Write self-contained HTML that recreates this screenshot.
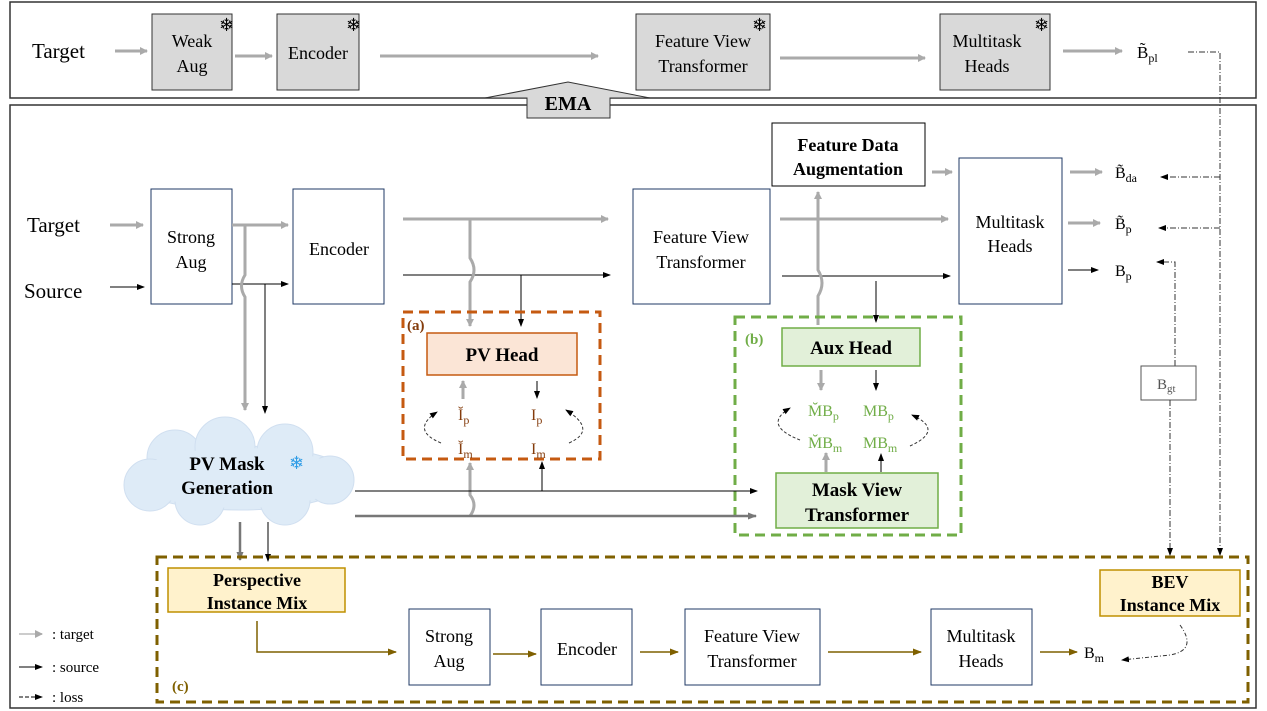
<!DOCTYPE html>
<html><head><meta charset="utf-8"><style>
html,body{margin:0;padding:0;background:#fff}
svg{display:block}
text{font-family:"Liberation Serif",serif;fill:#000}
.b{font-weight:bold}
</style></head><body>
<svg width="1267" height="711" viewBox="0 0 1267 711" xmlns="http://www.w3.org/2000/svg">
<defs>
<marker id="ag" markerWidth="8" markerHeight="8" refX="7" refY="4" orient="auto" markerUnits="userSpaceOnUse"><path d="M0,0 L8,4 L0,8z" fill="#aaa"/></marker>
<marker id="ak" markerWidth="8" markerHeight="8" refX="7" refY="4" orient="auto" markerUnits="userSpaceOnUse"><path d="M0,1 L8,4 L0,7z" fill="#000"/></marker>
<marker id="ad" markerWidth="9" markerHeight="9" refX="8" refY="4.5" orient="auto" markerUnits="userSpaceOnUse"><path d="M0,1 L9,4.5 L0,8z" fill="#7f6000"/></marker>
<marker id="am" markerWidth="9" markerHeight="9" refX="8" refY="4.5" orient="auto" markerUnits="userSpaceOnUse"><path d="M0,1 L9,4.5 L0,8z" fill="#777"/></marker>
</defs>
<rect x="10" y="2" width="1246" height="96" fill="none" stroke="#333" stroke-width="1.5"/>
<rect x="10" y="105" width="1246" height="603" fill="none" stroke="#333" stroke-width="1.5"/>

<text x="32" y="58" font-size="21">Target</text>
<line x1="115" y1="51" x2="147" y2="51" stroke="#aaa" stroke-width="3" marker-end="url(#ag)"/>
<rect x="152" y="14" width="80" height="76" fill="#d9d9d9" stroke="#333"/>
<text x="192" y="47" font-size="18" text-anchor="middle">Weak</text>
<text x="192" y="72" font-size="18" text-anchor="middle">Aug</text>
<text x="219" y="31" font-size="18">❄</text>
<line x1="235" y1="56" x2="272" y2="56" stroke="#aaa" stroke-width="3" marker-end="url(#ag)"/>
<rect x="277" y="14" width="82" height="76" fill="#d9d9d9" stroke="#333"/>
<text x="318" y="59" font-size="18" text-anchor="middle">Encoder</text>
<text x="346" y="31" font-size="18">❄</text>
<line x1="380" y1="56" x2="598" y2="56" stroke="#aaa" stroke-width="3" marker-end="url(#ag)"/>
<rect x="636" y="14" width="134" height="76" fill="#d9d9d9" stroke="#333"/>
<text x="703" y="47" font-size="18" text-anchor="middle">Feature View</text>
<text x="703" y="72" font-size="18" text-anchor="middle">Transformer</text>
<text x="752" y="31" font-size="18">❄</text>
<line x1="780" y1="58" x2="925" y2="58" stroke="#aaa" stroke-width="3" marker-end="url(#ag)"/>
<rect x="940" y="14" width="110" height="76" fill="#d9d9d9" stroke="#333"/>
<text x="987" y="47" font-size="18" text-anchor="middle">Multitask</text>
<text x="987" y="72" font-size="18" text-anchor="middle">Heads</text>
<text x="1034" y="31" font-size="18">❄</text>
<line x1="1063" y1="51" x2="1122" y2="51" stroke="#aaa" stroke-width="3" marker-end="url(#ag)"/>
<text x="1137" y="58" font-size="17">B̃<tspan font-size="12" dy="4">pl</tspan></text>
<path d="M1188,52 H1220 V550" fill="none" stroke="#333" stroke-dasharray="6,2,1,2"/>
<path d="M1220,550 V555" stroke="#000" marker-end="url(#ak)"/>

<path d="M485,98 L568,82 L650,98 L610,98 L610,118 L527,118 L527,98 Z" fill="#d9d9d9" stroke="#333"/>
<text x="568" y="110" font-size="20" class="b" text-anchor="middle">EMA</text>

<text x="27" y="232" font-size="21">Target</text>
<text x="24" y="298" font-size="21">Source</text>
<line x1="110" y1="225" x2="143" y2="225" stroke="#aaa" stroke-width="3" marker-end="url(#ag)"/>
<line x1="110" y1="287" x2="144" y2="287" stroke="#000" marker-end="url(#ak)"/>
<rect x="151" y="189" width="81" height="115" fill="#fff" stroke="#1f3864"/>
<text x="191" y="243" font-size="18" text-anchor="middle">Strong</text>
<text x="191" y="268" font-size="18" text-anchor="middle">Aug</text>
<rect x="293" y="189" width="91" height="115" fill="#fff" stroke="#1f3864"/>
<text x="339" y="255" font-size="18" text-anchor="middle">Encoder</text>
<line x1="232" y1="225" x2="288" y2="225" stroke="#aaa" stroke-width="3" marker-end="url(#ag)"/>
<line x1="232" y1="284" x2="288" y2="284" stroke="#000" marker-end="url(#ak)"/>
<path d="M245,225 V275 Q238,286 245,297 V410" fill="none" stroke="#aaa" stroke-width="3" marker-end="url(#ag)"/>
<line x1="265" y1="284" x2="265" y2="413" stroke="#000" marker-end="url(#ak)"/>

<rect x="633" y="189" width="137" height="115" fill="#fff" stroke="#1f3864"/>
<text x="701" y="243" font-size="18" text-anchor="middle">Feature View</text>
<text x="701" y="268" font-size="18" text-anchor="middle">Transformer</text>
<line x1="403" y1="219" x2="608" y2="219" stroke="#aaa" stroke-width="3" marker-end="url(#ag)"/>
<line x1="403" y1="275" x2="610" y2="275" stroke="#000" marker-end="url(#ak)"/>
<path d="M470,219 V258 Q478,270 470,282 V326" fill="none" stroke="#aaa" stroke-width="3" marker-end="url(#ag)"/>
<line x1="521" y1="275" x2="521" y2="326" stroke="#000" marker-end="url(#ak)"/>

<rect x="772" y="123" width="153" height="63" fill="#fff" stroke="#000"/>
<text x="848" y="151" font-size="18" class="b" text-anchor="middle">Feature Data</text>
<text x="848" y="175" font-size="18" class="b" text-anchor="middle">Augmentation</text>
<rect x="959" y="158" width="103" height="146" fill="#fff" stroke="#1f3864"/>
<text x="1010" y="228" font-size="18" text-anchor="middle">Multitask</text>
<text x="1010" y="252" font-size="18" text-anchor="middle">Heads</text>
<line x1="780" y1="219" x2="948" y2="219" stroke="#aaa" stroke-width="3" marker-end="url(#ag)"/>
<line x1="782" y1="276" x2="950" y2="276" stroke="#000" marker-end="url(#ak)"/>
<line x1="932" y1="172" x2="952" y2="172" stroke="#aaa" stroke-width="3" marker-end="url(#ag)"/>
<path d="M818,325 V296 Q826,283 818,270 V192" fill="none" stroke="#aaa" stroke-width="3" marker-end="url(#ag)"/>
<line x1="876" y1="281" x2="876" y2="322" stroke="#000" marker-end="url(#ak)"/>

<line x1="1070" y1="172" x2="1102" y2="172" stroke="#aaa" stroke-width="3" marker-end="url(#ag)"/>
<line x1="1068" y1="223" x2="1100" y2="223" stroke="#aaa" stroke-width="3" marker-end="url(#ag)"/>
<line x1="1068" y1="270" x2="1098" y2="270" stroke="#000" marker-end="url(#ak)"/>
<text x="1115" y="178" font-size="16">B̃<tspan font-size="12" dy="4">da</tspan></text>
<text x="1115" y="229" font-size="16">B̃<tspan font-size="12" dy="4">p</tspan></text>
<text x="1115" y="276" font-size="16">B<tspan font-size="12" dy="4">p</tspan></text>
<path d="M1220,177 H1161" fill="none" stroke="#333" stroke-dasharray="6,2,1,2" marker-end="url(#ak)"/>
<path d="M1220,228 H1159" fill="none" stroke="#333" stroke-dasharray="6,2,1,2" marker-end="url(#ak)"/>
<path d="M1175,366 V262 H1157" fill="none" stroke="#333" stroke-dasharray="6,2,1,2" marker-end="url(#ak)"/>
<rect x="1141" y="366" width="55" height="34" fill="#fff" stroke="#555"/>
<text x="1157" y="389" font-size="15" style="fill:#555">B<tspan font-size="11" dy="3">gt</tspan></text>
<path d="M1170,400 V555" fill="none" stroke="#333" stroke-dasharray="6,2,1,2" marker-end="url(#ak)"/>

<rect x="403" y="312" width="197" height="147" fill="none" stroke="#c55a11" stroke-width="3" stroke-dasharray="10,6"/>
<text x="407" y="330" font-size="15" class="b" style="fill:#843c0c">(a)</text>
<rect x="427" y="333" width="150" height="42" fill="#fbe5d6" stroke="#c55a11" stroke-width="1.5"/>
<text x="502" y="361" font-size="19" class="b" text-anchor="middle">PV Head</text>
<line x1="463" y1="399" x2="463" y2="381" stroke="#aaa" stroke-width="3" marker-end="url(#ag)"/>
<line x1="537" y1="381" x2="537" y2="398" stroke="#000" marker-end="url(#ak)"/>
<g font-size="16">
<text x="458" y="420" style="fill:#843c0c">Ĭ<tspan font-size="12" dy="4">p</tspan></text>
<text x="531" y="420" style="fill:#843c0c">I<tspan font-size="12" dy="4">p</tspan></text>
<text x="458" y="454" style="fill:#843c0c">Ĭ<tspan font-size="12" dy="4">m</tspan></text>
<text x="531" y="454" style="fill:#843c0c">I<tspan font-size="12" dy="4">m</tspan></text>
</g>
<path d="M441,443 Q410,430 437,412" fill="none" stroke="#333" stroke-dasharray="3,2" marker-end="url(#ak)"/>
<path d="M569,443 Q598,430 566,410" fill="none" stroke="#333" stroke-dasharray="3,2" marker-end="url(#ak)"/>
<path d="M470,516 Q478,505 470,495 V463" fill="none" stroke="#aaa" stroke-width="3" marker-end="url(#ag)"/>
<line x1="542" y1="491" x2="542" y2="462" stroke="#000" marker-end="url(#ak)"/>

<rect x="735" y="317" width="226" height="218" fill="none" stroke="#70ad47" stroke-width="3" stroke-dasharray="10,6"/>
<text x="745" y="344" font-size="15" class="b" style="fill:#70ad47">(b)</text>
<rect x="782" y="328" width="138" height="38" fill="#e2f0d9" stroke="#70ad47" stroke-width="1.5"/>
<text x="851" y="354" font-size="19" class="b" text-anchor="middle">Aux Head</text>
<line x1="821" y1="370" x2="821" y2="390" stroke="#aaa" stroke-width="3" marker-end="url(#ag)"/>
<line x1="876" y1="370" x2="876" y2="390" stroke="#000" marker-end="url(#ak)"/>
<g font-size="16">
<text x="808" y="416" style="fill:#70ad47">M̆B<tspan font-size="12" dy="4">p</tspan></text>
<text x="863" y="416" style="fill:#70ad47">MB<tspan font-size="12" dy="4">p</tspan></text>
<text x="808" y="448" style="fill:#70ad47">M̆B<tspan font-size="12" dy="4">m</tspan></text>
<text x="863" y="448" style="fill:#70ad47">MB<tspan font-size="12" dy="4">m</tspan></text>
</g>
<path d="M800,440 Q762,425 790,408" fill="none" stroke="#333" stroke-dasharray="3,2" marker-end="url(#ak)"/>
<path d="M910,446 Q945,430 912,415" fill="none" stroke="#333" stroke-dasharray="3,2" marker-end="url(#ak)"/>
<rect x="776" y="473" width="162" height="55" fill="#e2f0d9" stroke="#70ad47" stroke-width="1.5"/>
<text x="857" y="496" font-size="19" class="b" text-anchor="middle">Mask View</text>
<text x="857" y="521" font-size="19" class="b" text-anchor="middle">Transformer</text>
<line x1="826" y1="472" x2="826" y2="453" stroke="#aaa" stroke-width="3" marker-end="url(#ag)"/>
<line x1="881" y1="472" x2="881" y2="454" stroke="#000" marker-end="url(#ak)"/>

<g fill="#deebf7" stroke="#d0dff0">
<ellipse cx="240" cy="478" rx="112" ry="32"/>
<circle cx="175" cy="458" r="28"/><circle cx="225" cy="447" r="30"/><circle cx="285" cy="452" r="28"/>
<circle cx="150" cy="485" r="26"/><circle cx="330" cy="480" r="24"/><circle cx="200" cy="500" r="25"/><circle cx="285" cy="500" r="25"/>
</g>
<ellipse cx="240" cy="478" rx="105" ry="30" fill="#deebf7"/>
<text x="227" y="470" font-size="19" class="b" text-anchor="middle">PV Mask</text>
<text x="227" y="494" font-size="19" class="b" text-anchor="middle">Generation</text>
<text x="289" y="469" font-size="18" style="fill:#2e9ce6">❄</text>
<line x1="355" y1="491" x2="757" y2="491" stroke="#000" marker-end="url(#ak)"/>
<line x1="355" y1="516" x2="756" y2="516" stroke="#777" stroke-width="2.5" marker-end="url(#am)"/>
<line x1="240" y1="522" x2="240" y2="560" stroke="#777" stroke-width="2.5" marker-end="url(#am)"/>
<line x1="268" y1="522" x2="268" y2="561" stroke="#000" marker-end="url(#ak)"/>

<rect x="157" y="557" width="1091" height="145" fill="none" stroke="#7f6000" stroke-width="3" stroke-dasharray="10,6"/>
<text x="172" y="691" font-size="15" class="b" style="fill:#7f6000">(c)</text>
<rect x="168" y="568" width="177" height="44" fill="#fff2cc" stroke="#bf9000" stroke-width="1.5"/>
<text x="257" y="586" font-size="18" class="b" text-anchor="middle">Perspective</text>
<text x="257" y="609" font-size="18" class="b" text-anchor="middle">Instance Mix</text>
<rect x="1100" y="570" width="140" height="46" fill="#fff2cc" stroke="#bf9000" stroke-width="1.5"/>
<text x="1170" y="588" font-size="18" class="b" text-anchor="middle">BEV</text>
<text x="1170" y="611" font-size="18" class="b" text-anchor="middle">Instance Mix</text>
<path d="M257,621 V652 H396" fill="none" stroke="#7f6000" stroke-width="1.5" marker-end="url(#ad)"/>
<rect x="409" y="609" width="81" height="76" fill="#fff" stroke="#1f3864"/>
<text x="449" y="642" font-size="18" text-anchor="middle">Strong</text>
<text x="449" y="667" font-size="18" text-anchor="middle">Aug</text>
<line x1="493" y1="654" x2="536" y2="654" stroke="#7f6000" stroke-width="1.5" marker-end="url(#ad)"/>
<rect x="541" y="609" width="91" height="76" fill="#fff" stroke="#1f3864"/>
<text x="587" y="655" font-size="18" text-anchor="middle">Encoder</text>
<line x1="640" y1="652" x2="678" y2="652" stroke="#7f6000" stroke-width="1.5" marker-end="url(#ad)"/>
<rect x="685" y="609" width="135" height="76" fill="#fff" stroke="#1f3864"/>
<text x="752" y="642" font-size="18" text-anchor="middle">Feature View</text>
<text x="752" y="667" font-size="18" text-anchor="middle">Transformer</text>
<line x1="828" y1="652" x2="921" y2="652" stroke="#7f6000" stroke-width="1.5" marker-end="url(#ad)"/>
<rect x="931" y="609" width="101" height="76" fill="#fff" stroke="#1f3864"/>
<text x="981" y="642" font-size="18" text-anchor="middle">Multitask</text>
<text x="981" y="667" font-size="18" text-anchor="middle">Heads</text>
<line x1="1040" y1="652" x2="1077" y2="652" stroke="#7f6000" stroke-width="1.5" marker-end="url(#ad)"/>
<text x="1084" y="658" font-size="16">B<tspan font-size="12" dy="4">m</tspan></text>
<path d="M1180,625 Q1198,650 1170,655 L1122,660" fill="none" stroke="#333" stroke-dasharray="4,2,1,2" marker-end="url(#ak)"/>

<line x1="19" y1="634" x2="42" y2="634" stroke="#ccc" stroke-width="2" marker-end="url(#ag)"/>
<text x="52" y="639" font-size="15">: target</text>
<line x1="19" y1="667" x2="42" y2="667" stroke="#000" marker-end="url(#ak)"/>
<text x="52" y="672" font-size="15">: source</text>
<line x1="19" y1="697" x2="42" y2="697" stroke="#000" stroke-dasharray="4,2" marker-end="url(#ak)"/>
<text x="52" y="702" font-size="15">: loss</text>
</svg>
</body></html>
